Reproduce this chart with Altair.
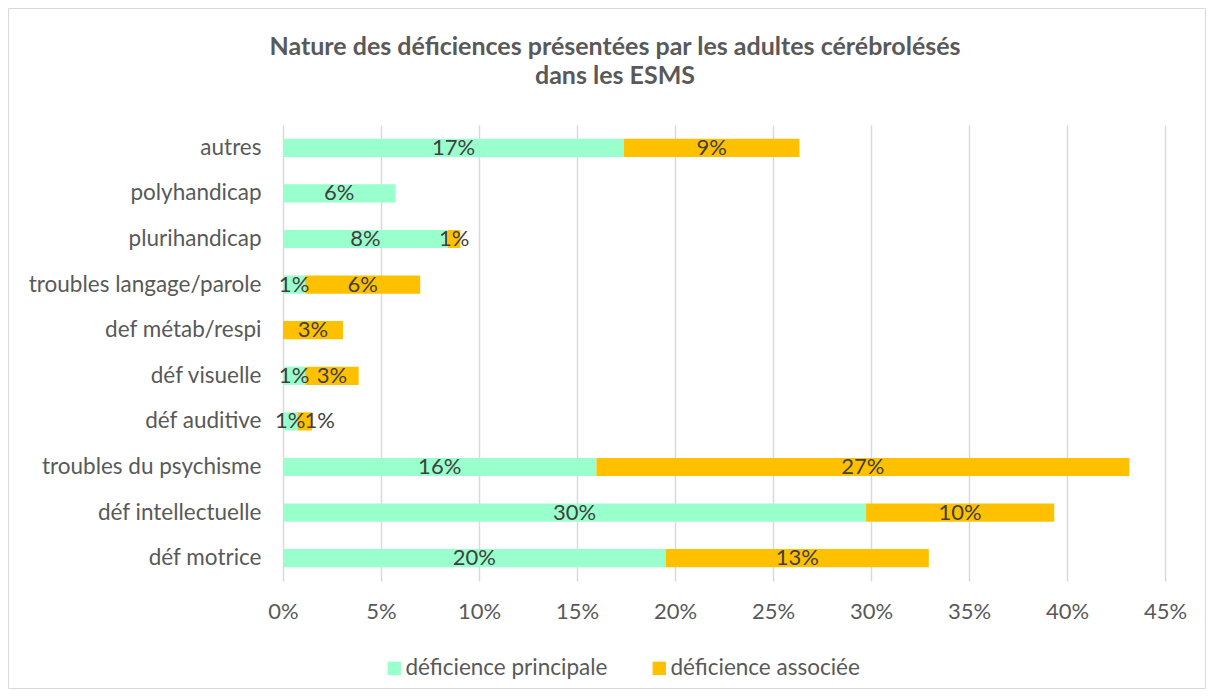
import altair as alt
import pandas as pd

categories = ["autres", "polyhandicap", "plurihandicap", "troubles langage/parole",
              "def métab/respi", "déf visuelle", "déf auditive",
              "troubles du psychisme", "déf intellectuelle", "déf motrice"]
principale = [0.174, 0.0574, 0.0842, 0.0113, 0.0, 0.0113, 0.0074, 0.1599, 0.2975, 0.1952]
associee = [0.0895, 0.0, 0.0063, 0.0587, 0.0306, 0.0273, 0.0075, 0.2719, 0.096, 0.1343]
series = ["déficience principale", "déficience associée"]
x_ticks = [0, 0.05, 0.10, 0.15, 0.20, 0.25, 0.30, 0.35, 0.40, 0.45]
title_lines = ["Nature des déficiences présentées par les adultes cérébrolésés", "dans les ESMS"]

rows = []
for i, c in enumerate(categories):
    rows.append({"cat": c, "serie": series[0], "value": principale[i], "ord": 0})
    rows.append({"cat": c, "serie": series[1], "value": associee[i], "ord": 1})
df = pd.DataFrame(rows)

FONT = "Lato"
GREEN = "#99FFCC"
ORANGE = "#FFC000"
AXFS = 22.5

base = alt.Chart(df).transform_stack(
    stack="value", groupby=["cat"], as_=["v0", "v1"],
    sort=[alt.SortField("ord", order="ascending")]
).transform_calculate(
    mid="(datum.v0 + datum.v1) / 2"
).transform_calculate(
    lx="datum.ord == 1 ? max(datum.mid, datum.v0 / 2 + 0.015) : datum.mid"
)

y_enc = alt.Y("cat:N", sort=categories, title=None,
              scale=alt.Scale(paddingInner=0.6, paddingOuter=0.3),
              axis=alt.Axis(domain=False, ticks=False, labelPadding=22,
                            labelFontSize=AXFS, labelColor="#595959", labelFont=FONT,
                            labelLimit=300))

bars = base.mark_bar().encode(
    y=y_enc,
    x=alt.X("v0:Q", title=None,
            scale=alt.Scale(domain=[0, 0.45], nice=False),
            axis=alt.Axis(values=x_ticks, format=".0%", domain=False, ticks=False,
                          grid=True, gridColor="#D9D9D9", gridWidth=1.5,
                          labelFlush=False, labelOverlap=False,
                          labelPadding=20, labelFontSize=22, labelColor="#595959",
                          labelFont=FONT)),
    x2="v1:Q",
    color=alt.Color("serie:N", sort=series,
                    scale=alt.Scale(domain=series, range=[GREEN, ORANGE]),
                    legend=alt.Legend(title=None, orient="none", direction="horizontal",
                                      legendX=100, legendY=532, symbolType="square",
                                      symbolSize=180, symbolStrokeWidth=0,
                                      labelFontSize=AXFS, labelColor="#595959",
                                      labelFont=FONT, columnPadding=40, labelLimit=400,
                                      labelOffset=0, symbolOpacity=1)),
)

labels = base.transform_filter("datum.value > 0").mark_text(
    fontSize=22, color="#404040", font=FONT, baseline="middle", align="center"
).encode(
    y=alt.Y("cat:N", sort=categories),
    x=alt.X("lx:Q"),
    text=alt.Text("value:Q", format=".0%"),
)

title_df = pd.DataFrame({"t": title_lines, "i": [0, 1]})
title = alt.Chart(title_df).transform_calculate(
    py="-78 + datum.i * 29"
).mark_text(
    fontSize=25, font=FONT, fontWeight="bold", color="#595959",
    align="center", baseline="middle"
).encode(x=alt.value(332), y=alt.Y("py:Q", scale=None), text="t:N")

border = alt.Chart(alt.Data(values=[{}])).mark_rect(
    fill=None, stroke="#D9D9D9", strokeWidth=1
).encode(x=alt.value(-274.5), x2=alt.value(922.5), y=alt.value(-116.5), y2=alt.value(563.5))

chart = alt.layer(border, bars, labels, title).properties(
    width=882, height=456,
    autosize=alt.AutoSizeParams(type="none"),
    padding={"left": 275, "top": 117, "right": 41, "bottom": 108},
).configure_view(stroke=None)

chart.save("out.html", embed_options={"renderer": "svg", "actions": False})
